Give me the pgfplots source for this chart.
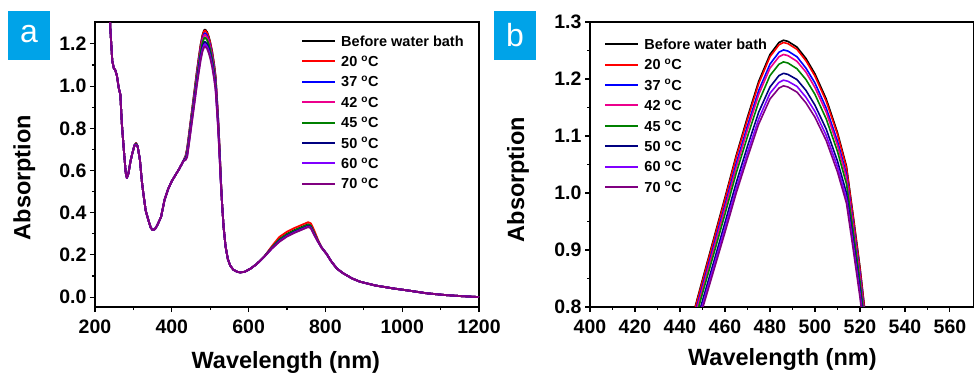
\documentclass[border=0pt]{standalone}
\usepackage{pgfplots}
\usepackage{pgfplotstable}
\pgfplotsset{compat=1.18}
\usepackage{fontspec}
\setmainfont{Liberation Sans}
\definecolor{cNavy}{RGB}{0,0,128}
\definecolor{cViolet}{RGB}{128,0,255}
\definecolor{cPurple}{RGB}{128,0,128}
\definecolor{cGreen}{RGB}{0,128,0}
\definecolor{cPanel}{RGB}{0,163,232}

\pgfplotstableread{
x c0 c1 c2 c3 c4 c5 c6 c7
236 1.45 1.45 1.45 1.45 1.45 1.45 1.45 1.45
240 1.27 1.27 1.27 1.27 1.27 1.27 1.27 1.27
245 1.12 1.12 1.12 1.12 1.12 1.12 1.12 1.12
249 1.085 1.085 1.085 1.085 1.085 1.085 1.085 1.085
253 1.075 1.075 1.075 1.075 1.075 1.075 1.075 1.075
257 1.05 1.05 1.05 1.05 1.05 1.05 1.05 1.05
262 0.99 0.99 0.99 0.99 0.99 0.99 0.99 0.99
266 0.96 0.96 0.96 0.96 0.96 0.96 0.96 0.96
270 0.82 0.82 0.82 0.82 0.82 0.82 0.82 0.82
275 0.70 0.70 0.70 0.70 0.70 0.70 0.70 0.70
280 0.59 0.59 0.59 0.59 0.59 0.59 0.59 0.59
283 0.565 0.565 0.565 0.565 0.565 0.565 0.565 0.565
287 0.585 0.585 0.585 0.585 0.585 0.585 0.585 0.585
292 0.64 0.64 0.64 0.64 0.64 0.64 0.64 0.64
297 0.68 0.68 0.68 0.68 0.68 0.68 0.68 0.68
303 0.72 0.72 0.72 0.72 0.72 0.72 0.72 0.72
307 0.73 0.73 0.728 0.727 0.726 0.724 0.722 0.72
311 0.715 0.715 0.715 0.715 0.715 0.715 0.715 0.715
317 0.65 0.65 0.65 0.65 0.65 0.65 0.65 0.65
322 0.55 0.55 0.55 0.55 0.55 0.55 0.55 0.55
326 0.49 0.49 0.49 0.49 0.49 0.49 0.49 0.49
332 0.41 0.41 0.41 0.41 0.41 0.41 0.41 0.41
339 0.365 0.365 0.365 0.365 0.365 0.365 0.365 0.365
345 0.33 0.33 0.33 0.33 0.33 0.33 0.33 0.33
350 0.318 0.318 0.318 0.318 0.318 0.318 0.318 0.318
356 0.322 0.322 0.322 0.322 0.322 0.322 0.322 0.322
362 0.34 0.34 0.34 0.34 0.34 0.34 0.34 0.34
372 0.38 0.38 0.38 0.38 0.38 0.38 0.38 0.38
381 0.46 0.46 0.46 0.46 0.46 0.46 0.46 0.46
390 0.51 0.51 0.51 0.51 0.51 0.51 0.51 0.51
400 0.55 0.55 0.55 0.55 0.55 0.55 0.55 0.55
410 0.58 0.58 0.58 0.58 0.58 0.58 0.58 0.58
420 0.61 0.61 0.61 0.61 0.61 0.61 0.61 0.61
430 0.645 0.645 0.645 0.645 0.645 0.645 0.645 0.645
436 0.670 0.669 0.666 0.664 0.660 0.655 0.652 0.650
440 0.705 0.703 0.696 0.692 0.685 0.675 0.669 0.664
445 0.775 0.773 0.765 0.761 0.753 0.741 0.735 0.729
450 0.848 0.845 0.837 0.832 0.824 0.811 0.803 0.797
455 0.920 0.917 0.908 0.902 0.893 0.879 0.871 0.864
460 0.992 0.989 0.979 0.973 0.963 0.948 0.939 0.931
465 1.066 1.063 1.052 1.045 1.035 1.018 1.008 1.000
470 1.133 1.129 1.118 1.111 1.099 1.082 1.071 1.062
475 1.196 1.192 1.180 1.173 1.160 1.142 1.130 1.121
480 1.243 1.239 1.226 1.219 1.206 1.186 1.175 1.165
484 1.264 1.260 1.247 1.239 1.226 1.206 1.194 1.184
486 1.268 1.264 1.251 1.243 1.230 1.210 1.198 1.188
488 1.266 1.262 1.249 1.241 1.228 1.208 1.196 1.186
492 1.256 1.252 1.239 1.231 1.218 1.199 1.187 1.177
496 1.236 1.232 1.219 1.212 1.199 1.180 1.168 1.158
500 1.209 1.205 1.193 1.185 1.173 1.154 1.143 1.133
505 1.165 1.161 1.149 1.142 1.130 1.112 1.101 1.092
510 1.106 1.103 1.091 1.084 1.073 1.056 1.046 1.037
514 1.047 1.044 1.033 1.027 1.016 1.000 0.990 0.982
517 0.960 0.957 0.947 0.942 0.932 0.917 0.909 0.901
520 0.870 0.867 0.859 0.854 0.845 0.832 0.824 0.817
522 0.800 0.798 0.790 0.785 0.777 0.765 0.758 0.752
525 0.680 0.678 0.672 0.668 0.661 0.651 0.645 0.640
528 0.550 0.549 0.546 0.544 0.541 0.536 0.533 0.530
531 0.44 0.44 0.44 0.44 0.44 0.44 0.44 0.44
535 0.33 0.33 0.33 0.33 0.33 0.33 0.33 0.33
540 0.24 0.24 0.24 0.24 0.24 0.24 0.24 0.24
546 0.18 0.18 0.18 0.18 0.18 0.18 0.18 0.18
552 0.15 0.15 0.15 0.15 0.15 0.15 0.15 0.15
560 0.13 0.13 0.13 0.13 0.13 0.13 0.13 0.13
570 0.12 0.12 0.12 0.12 0.12 0.12 0.12 0.12
578 0.117 0.117 0.117 0.117 0.117 0.117 0.117 0.117
590 0.12 0.12 0.12 0.12 0.12 0.12 0.12 0.12
605 0.135 0.135 0.135 0.135 0.135 0.135 0.135 0.135
620 0.155 0.155 0.155 0.155 0.155 0.155 0.155 0.155
640 0.19 0.19 0.19 0.19 0.19 0.19 0.19 0.19
660 0.235 0.240 0.233 0.232 0.234 0.231 0.229 0.229
680 0.275 0.285 0.270 0.269 0.273 0.267 0.264 0.262
700 0.300 0.310 0.295 0.294 0.298 0.292 0.289 0.287
720 0.318 0.328 0.313 0.312 0.316 0.310 0.307 0.305
742 0.335 0.345 0.330 0.329 0.333 0.327 0.324 0.322
755 0.345 0.355 0.340 0.339 0.343 0.337 0.334 0.332
762 0.340 0.350 0.335 0.334 0.338 0.332 0.329 0.327
770 0.310 0.320 0.305 0.304 0.308 0.302 0.299 0.297
780 0.270 0.275 0.268 0.267 0.269 0.266 0.265 0.264
790 0.235 0.235 0.235 0.235 0.235 0.235 0.235 0.235
803 0.205 0.205 0.205 0.205 0.205 0.205 0.205 0.205
815 0.17 0.17 0.17 0.17 0.17 0.17 0.17 0.17
830 0.135 0.135 0.135 0.135 0.135 0.135 0.135 0.135
847 0.112 0.112 0.112 0.112 0.112 0.112 0.112 0.112
870 0.088 0.088 0.088 0.088 0.088 0.088 0.088 0.088
890 0.073 0.073 0.073 0.073 0.073 0.073 0.073 0.073
930 0.055 0.055 0.055 0.055 0.055 0.055 0.055 0.055
977 0.041 0.041 0.041 0.041 0.041 0.041 0.041 0.041
1020 0.03 0.03 0.03 0.03 0.03 0.03 0.03 0.03
1064 0.018 0.018 0.018 0.018 0.018 0.018 0.018 0.018
1110 0.01 0.01 0.01 0.01 0.01 0.01 0.01 0.01
1150 0.005 0.005 0.005 0.005 0.005 0.005 0.005 0.005
1200 0.0 0.0 0.0 0.0 0.0 0.0 0.0 0.0
}\spectra

\pgfplotsset{
  common/.style={
    scale only axis, width=384pt, height=285pt,
    tick align=outside, tick pos=left,
    axis line style={line width=1.3pt},
    every tick/.style={black, line width=1.1pt},
    major tick length=5pt, minor tick length=3pt,
    ticklabel style={font=\fontsize{19.5}{19.5}\selectfont\bfseries},
    xticklabel style={yshift=-4pt},
    /pgf/number format/assume math mode=true,
    /pgf/number format/1000 sep={},
    label style={font=\fontsize{23.5}{23.5}\selectfont\bfseries},
    legend cell align=left,
    legend image code/.code={\draw[#1,line width=2pt] (0pt,0pt) -- (33pt,0pt);},
    legend style={draw=none, fill=none, inner sep=0pt, row sep=10pt,
      font=\fontsize{14.5}{14.5}\selectfont\bfseries,
      nodes={inner sep=0pt, text height=10.4pt, text depth=0pt},
      /tikz/every odd column/.append style={column sep=5pt}},
    every axis plot/.append style={line join=round},
  }
}

\begin{document}
\begin{tikzpicture}
\path[use as bounding box] (0,0) rectangle (974pt,376pt);
% panel labels
\fill[cPanel] (8pt,316pt) rectangle (50pt,365pt);
\node[text=white, font=\fontsize{32}{32}\selectfont] at (29pt,342pt) {a};
\fill[cPanel] (494pt,316pt) rectangle (536pt,365pt);
\node[text=white, font=\fontsize{32}{32}\selectfont] at (515pt,341pt) {b};

\begin{axis}[common,
  at={(95pt,69pt)}, anchor=south west,
  xmin=200, xmax=1200, ymin=-0.047, ymax=1.304,
  xtick={200,400,600,800,1000,1200}, minor x tick num=1,
  ytick={0,0.2,0.4,0.6,0.8,1.0,1.2}, minor y tick num=1,
  yticklabel style={/pgf/number format/.cd, fixed, fixed zerofill, precision=1},
  xlabel={Wavelength (nm)}, ylabel={Absorption},
  xlabel style={at={(axis description cs:0.497,-0.196)}, anchor=center},
  ylabel style={at={(axis description cs:-0.184,0.454)}, anchor=center},
  legend style={at={(0.5365,0.9526)}, anchor=north west},
  every axis plot/.append style={line width=1.8pt},
]
\addplot[black] table[x=x,y=c0] {\spectra};
\addplot[red] table[x=x,y=c1] {\spectra};
\addplot[blue] table[x=x,y=c2] {\spectra};
\addplot[magenta] table[x=x,y=c3] {\spectra};
\addplot[cGreen] table[x=x,y=c4] {\spectra};
\addplot[cNavy] table[x=x,y=c5] {\spectra};
\addplot[cViolet] table[x=x,y=c6] {\spectra};
\addplot[cPurple] table[x=x,y=c7] {\spectra};
\legend{Before water bath, 20 \textsuperscript{o}C, 37 \textsuperscript{o}C, 42 \textsuperscript{o}C, 45 \textsuperscript{o}C, 50 \textsuperscript{o}C, 60 \textsuperscript{o}C, 70 \textsuperscript{o}C}
\end{axis}

\begin{axis}[common,
  at={(590pt,69pt)}, anchor=south west,
  xmin=400, xmax=570.7, ymin=0.8, ymax=1.3,
  xtick={400,420,...,560}, minor x tick num=1,
  ytick={0.8,0.9,1.0,1.1,1.2,1.3}, minor y tick num=1,
  yticklabel style={/pgf/number format/.cd, fixed, fixed zerofill, precision=1},
  xlabel={Wavelength (nm)}, ylabel={Absorption},
  xlabel style={at={(axis description cs:0.501,-0.185)}, anchor=center},
  ylabel style={at={(axis description cs:-0.1875,0.447)}, anchor=center},
  legend style={at={(0.0372,0.941)}, anchor=north west},
  every axis plot/.append style={line width=1.6pt},
]
\addplot[black] table[x=x,y=c0] {\spectra};
\addplot[red] table[x=x,y=c1] {\spectra};
\addplot[blue] table[x=x,y=c2] {\spectra};
\addplot[magenta] table[x=x,y=c3] {\spectra};
\addplot[cGreen] table[x=x,y=c4] {\spectra};
\addplot[cNavy] table[x=x,y=c5] {\spectra};
\addplot[cViolet] table[x=x,y=c6] {\spectra};
\addplot[cPurple] table[x=x,y=c7] {\spectra};
\legend{Before water bath, 20 \textsuperscript{o}C, 37 \textsuperscript{o}C, 42 \textsuperscript{o}C, 45 \textsuperscript{o}C, 50 \textsuperscript{o}C, 60 \textsuperscript{o}C, 70 \textsuperscript{o}C}
\end{axis}
\end{tikzpicture}
\end{document}
